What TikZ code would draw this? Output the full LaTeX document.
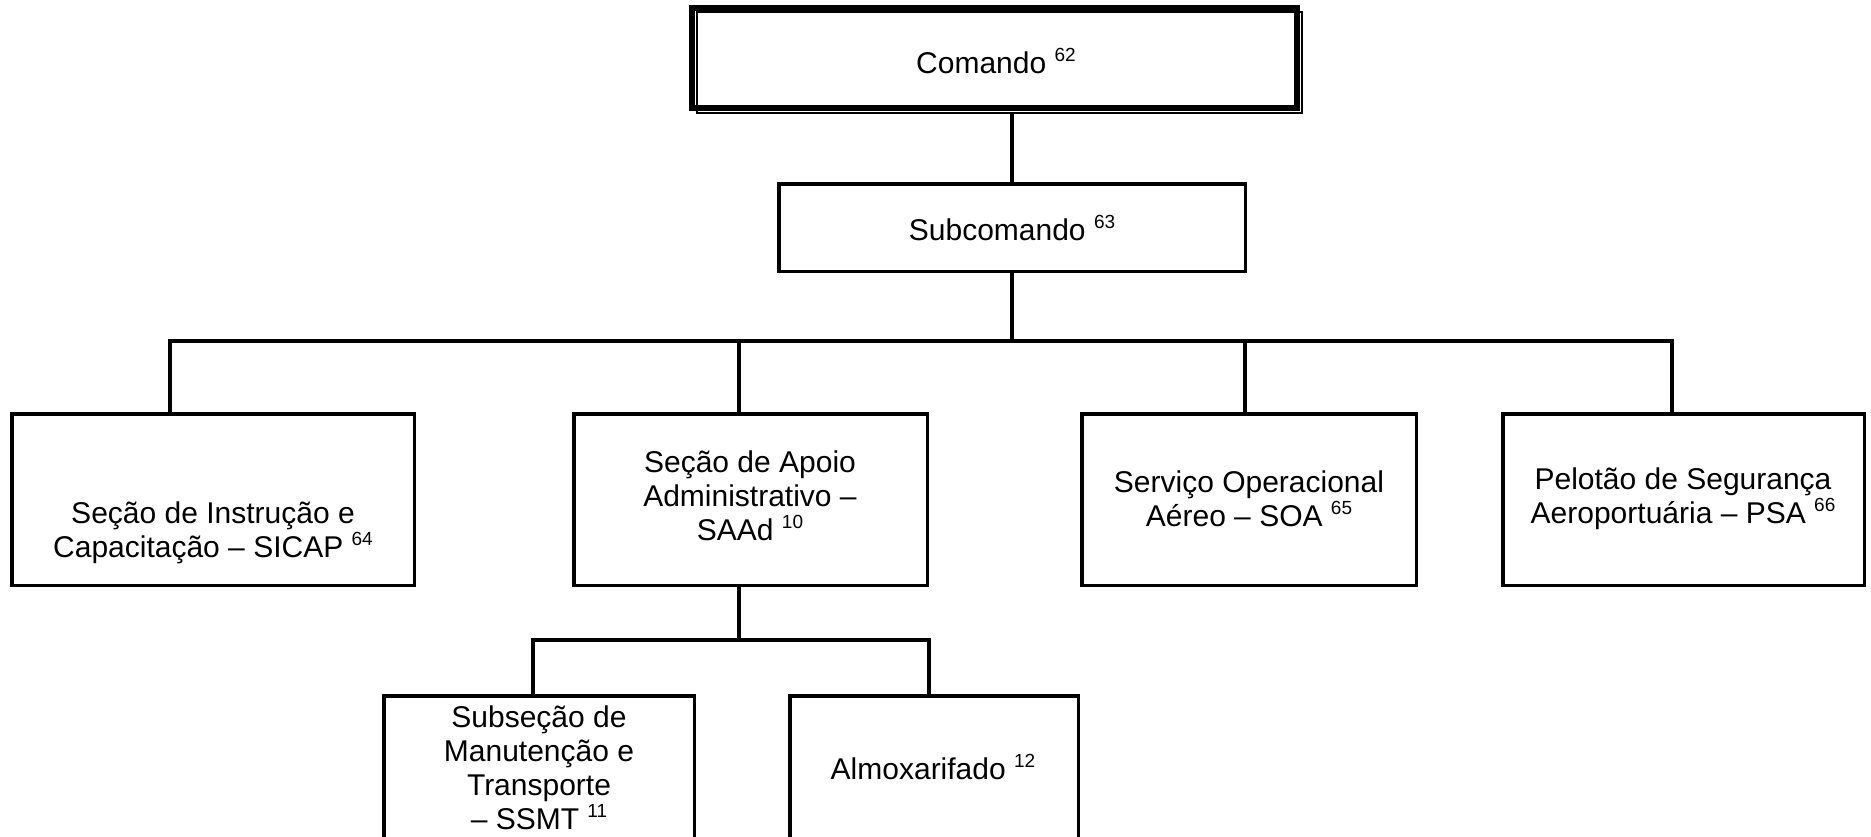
\documentclass[tikz,border=0pt]{standalone}
\usepackage{fontspec}
\setmainfont{Liberation Sans}
% raised note number after a unit name
\newcommand\nt[1]{\raisebox{12.5pt}{\fontsize{19}{19}\selectfont #1}}
\begin{document}
\begin{tikzpicture}[x=1pt,y=-1pt,
  box/.style={draw, line width=3.5pt, rectangle, inner sep=0pt},
  lbl/.style={align=center, font=\fontsize{30}{34}\selectfont, inner sep=0pt},
  link/.style={line width=3.5pt, line join=miter}]
\useasboundingbox (0,0) rectangle (1871,836);
\clip (0,0) rectangle (1871,836);

% top unit with a thick-thin double frame
\node (cmd) [inner sep=0pt, minimum width=614pt, minimum height=109pt] at (996,59.5) {};
\draw[line width=6pt] ([xshift=3pt,yshift=-3pt]cmd.north west) rectangle ([xshift=-6pt,yshift=6pt]cmd.south east);
\draw[line width=2pt] ([xshift=8.5pt,yshift=-7.5pt]cmd.north west) rectangle ([xshift=-1pt,yshift=1pt]cmd.south east);
\node (cmd-t) [lbl] at (996,61) {Comando \nt{62}};

% boxes
\node (sub)   [box, minimum width=466.5pt, minimum height=87.5pt]  at (1012,227.5) {};
\node (sicap) [box, minimum width=402.5pt, minimum height=171.5pt] at (213,499.5) {};
\node (saad)  [box, minimum width=353.5pt, minimum height=171.5pt] at (750.5,499.5) {};
\node (soa)   [box, minimum width=334.5pt, minimum height=171.5pt] at (1249,499.5) {};
\node (psa)   [box, minimum width=361.5pt, minimum height=171.5pt] at (1683.5,499.5) {};
\node (ssmt)  [box, minimum width=310.5pt, minimum height=202.5pt] at (539,797) {};
\node (almox) [box, minimum width=288.5pt, minimum height=202.5pt] at (934,797) {};

% labels
\node (sub-t)   [lbl] at (1012,228) {Subcomando \nt{63}};
\node (sicap-t) [lbl] at (213,533) {Seção de Instrução e\\Capacitação – SICAP \nt{64}};
\node (saad-t)  [lbl] at (750,496) {Seção de Apoio\\Administrativo –\\SAAd \nt{10}};
\node (soa-t)   [lbl] at (1249,499) {Serviço Operacional\\Aéreo – SOA \nt{65}};
\node (psa-t)   [lbl] at (1683,499) {Pelotão de Segurança\\Aeroportuária – PSA \nt{66}};
\node (ssmt-t)  [lbl] at (539,768) {Subseção de\\Manutenção e\\Transporte\\– SSMT \nt{11}};
\node (almox-t) [lbl] at (933,767) {Almoxarifado \nt{12}};

% connectors
\coordinate (bus) at (1012,341);
\coordinate (b1) at (170,341);
\coordinate (b2) at (739,341);
\coordinate (b3) at (1245,341);
\coordinate (b4) at (1672,341);
\coordinate (s0) at (739,640);
\coordinate (s1) at (533,640);
\coordinate (s2) at (929,640);

\draw[link] (sub.north |- cmd.south) -- (sub.north);
\draw[link] (sub.south) -- (bus);
\draw[link] (b1 |- sicap.north) -- (b1) -- (b4) -- (b4 |- psa.north);
\draw[link] (b2) -- (b2 |- saad.north);
\draw[link] (b3) -- (b3 |- soa.north);
\draw[link] (b2 |- saad.south) -- (s0);
\draw[link] (s1 |- ssmt.north) -- (s1) -- (s2) -- (s2 |- almox.north);
\end{tikzpicture}
\end{document}
